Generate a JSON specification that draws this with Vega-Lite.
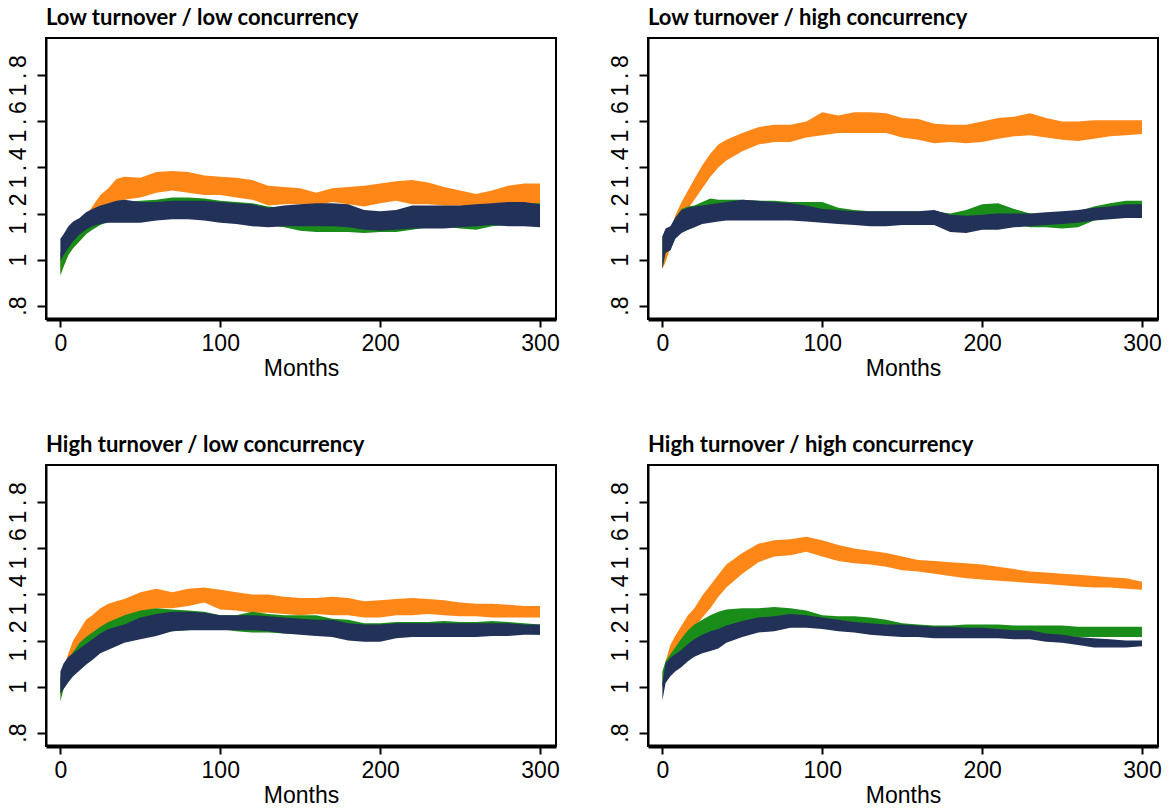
{
  "$schema": "https://vega.github.io/schema/vega-lite/v6.json",
  "background": "white",
  "padding": {"left": 6, "top": 6, "right": 5, "bottom": 5},
  "data": {"values": [
    {"p":"Low turnover / low concurrency","m":0,"ol":0.94,"oh":1.0,"gl":0.93,"gh":1.03,"nl":0.995,"nh":1.09},
    {"p":"Low turnover / low concurrency","m":2,"ol":0.97,"oh":1.03,"gl":0.97,"gh":1.07,"nl":1.02,"nh":1.11},
    {"p":"Low turnover / low concurrency","m":5,"ol":1.02,"oh":1.07,"gl":1.02,"gh":1.12,"nl":1.05,"nh":1.145},
    {"p":"Low turnover / low concurrency","m":8,"ol":1.05,"oh":1.1,"gl":1.05,"gh":1.15,"nl":1.08,"nh":1.165},
    {"p":"Low turnover / low concurrency","m":12,"ol":1.08,"oh":1.15,"gl":1.08,"gh":1.17,"nl":1.11,"nh":1.18},
    {"p":"Low turnover / low concurrency","m":16,"ol":1.11,"oh":1.19,"gl":1.11,"gh":1.19,"nl":1.13,"nh":1.205},
    {"p":"Low turnover / low concurrency","m":20,"ol":1.15,"oh":1.23,"gl":1.13,"gh":1.21,"nl":1.145,"nh":1.22},
    {"p":"Low turnover / low concurrency","m":25,"ol":1.18,"oh":1.28,"gl":1.15,"gh":1.225,"nl":1.155,"nh":1.235},
    {"p":"Low turnover / low concurrency","m":30,"ol":1.21,"oh":1.31,"gl":1.165,"gh":1.24,"nl":1.16,"nh":1.245},
    {"p":"Low turnover / low concurrency","m":35,"ol":1.24,"oh":1.35,"gl":1.17,"gh":1.25,"nl":1.16,"nh":1.255},
    {"p":"Low turnover / low concurrency","m":40,"ol":1.26,"oh":1.36,"gl":1.175,"gh":1.25,"nl":1.16,"nh":1.26},
    {"p":"Low turnover / low concurrency","m":50,"ol":1.27,"oh":1.355,"gl":1.17,"gh":1.255,"nl":1.16,"nh":1.25},
    {"p":"Low turnover / low concurrency","m":60,"ol":1.29,"oh":1.38,"gl":1.18,"gh":1.26,"nl":1.17,"nh":1.25},
    {"p":"Low turnover / low concurrency","m":70,"ol":1.3,"oh":1.385,"gl":1.185,"gh":1.27,"nl":1.175,"nh":1.255},
    {"p":"Low turnover / low concurrency","m":80,"ol":1.29,"oh":1.38,"gl":1.185,"gh":1.27,"nl":1.175,"nh":1.255},
    {"p":"Low turnover / low concurrency","m":90,"ol":1.28,"oh":1.365,"gl":1.18,"gh":1.265,"nl":1.17,"nh":1.255},
    {"p":"Low turnover / low concurrency","m":100,"ol":1.28,"oh":1.36,"gl":1.175,"gh":1.255,"nl":1.16,"nh":1.25},
    {"p":"Low turnover / low concurrency","m":110,"ol":1.27,"oh":1.355,"gl":1.17,"gh":1.25,"nl":1.155,"nh":1.245},
    {"p":"Low turnover / low concurrency","m":120,"ol":1.26,"oh":1.345,"gl":1.16,"gh":1.245,"nl":1.145,"nh":1.24},
    {"p":"Low turnover / low concurrency","m":130,"ol":1.235,"oh":1.32,"gl":1.15,"gh":1.23,"nl":1.14,"nh":1.225},
    {"p":"Low turnover / low concurrency","m":140,"ol":1.24,"oh":1.315,"gl":1.14,"gh":1.225,"nl":1.145,"nh":1.235},
    {"p":"Low turnover / low concurrency","m":150,"ol":1.24,"oh":1.31,"gl":1.125,"gh":1.215,"nl":1.145,"nh":1.24},
    {"p":"Low turnover / low concurrency","m":160,"ol":1.235,"oh":1.29,"gl":1.12,"gh":1.205,"nl":1.145,"nh":1.245},
    {"p":"Low turnover / low concurrency","m":170,"ol":1.25,"oh":1.31,"gl":1.12,"gh":1.2,"nl":1.145,"nh":1.245},
    {"p":"Low turnover / low concurrency","m":180,"ol":1.24,"oh":1.315,"gl":1.12,"gh":1.2,"nl":1.14,"nh":1.24},
    {"p":"Low turnover / low concurrency","m":190,"ol":1.23,"oh":1.32,"gl":1.115,"gh":1.2,"nl":1.13,"nh":1.215},
    {"p":"Low turnover / low concurrency","m":200,"ol":1.245,"oh":1.33,"gl":1.12,"gh":1.2,"nl":1.125,"nh":1.21},
    {"p":"Low turnover / low concurrency","m":210,"ol":1.255,"oh":1.34,"gl":1.12,"gh":1.205,"nl":1.13,"nh":1.215},
    {"p":"Low turnover / low concurrency","m":220,"ol":1.24,"oh":1.345,"gl":1.13,"gh":1.21,"nl":1.135,"nh":1.235},
    {"p":"Low turnover / low concurrency","m":230,"ol":1.24,"oh":1.335,"gl":1.14,"gh":1.215,"nl":1.135,"nh":1.235},
    {"p":"Low turnover / low concurrency","m":240,"ol":1.235,"oh":1.315,"gl":1.145,"gh":1.22,"nl":1.135,"nh":1.235},
    {"p":"Low turnover / low concurrency","m":250,"ol":1.235,"oh":1.3,"gl":1.135,"gh":1.225,"nl":1.14,"nh":1.235},
    {"p":"Low turnover / low concurrency","m":260,"ol":1.225,"oh":1.285,"gl":1.13,"gh":1.23,"nl":1.145,"nh":1.24},
    {"p":"Low turnover / low concurrency","m":270,"ol":1.21,"oh":1.3,"gl":1.145,"gh":1.24,"nl":1.15,"nh":1.245},
    {"p":"Low turnover / low concurrency","m":280,"ol":1.225,"oh":1.32,"gl":1.15,"gh":1.245,"nl":1.145,"nh":1.25},
    {"p":"Low turnover / low concurrency","m":290,"ol":1.235,"oh":1.33,"gl":1.155,"gh":1.245,"nl":1.145,"nh":1.25},
    {"p":"Low turnover / low concurrency","m":300,"ol":1.24,"oh":1.33,"gl":1.155,"gh":1.245,"nl":1.14,"nh":1.24},

    {"p":"Low turnover / high concurrency","m":0,"ol":0.96,"oh":1.0,"gl":0.96,"gh":1.1,"nl":0.96,"nh":1.1},
    {"p":"Low turnover / high concurrency","m":2,"ol":0.99,"oh":1.05,"gl":1.03,"gh":1.13,"nl":1.03,"nh":1.135},
    {"p":"Low turnover / high concurrency","m":5,"ol":1.05,"oh":1.12,"gl":1.04,"gh":1.14,"nl":1.04,"nh":1.145},
    {"p":"Low turnover / high concurrency","m":8,"ol":1.1,"oh":1.19,"gl":1.09,"gh":1.18,"nl":1.09,"nh":1.18},
    {"p":"Low turnover / high concurrency","m":12,"ol":1.18,"oh":1.25,"gl":1.12,"gh":1.22,"nl":1.115,"nh":1.215},
    {"p":"Low turnover / high concurrency","m":16,"ol":1.22,"oh":1.3,"gl":1.13,"gh":1.23,"nl":1.13,"nh":1.225},
    {"p":"Low turnover / high concurrency","m":20,"ol":1.26,"oh":1.35,"gl":1.14,"gh":1.235,"nl":1.14,"nh":1.23},
    {"p":"Low turnover / high concurrency","m":25,"ol":1.31,"oh":1.41,"gl":1.16,"gh":1.25,"nl":1.155,"nh":1.235},
    {"p":"Low turnover / high concurrency","m":30,"ol":1.36,"oh":1.46,"gl":1.17,"gh":1.265,"nl":1.16,"nh":1.24},
    {"p":"Low turnover / high concurrency","m":35,"ol":1.4,"oh":1.5,"gl":1.175,"gh":1.26,"nl":1.165,"nh":1.245},
    {"p":"Low turnover / high concurrency","m":40,"ol":1.43,"oh":1.52,"gl":1.175,"gh":1.26,"nl":1.17,"nh":1.25},
    {"p":"Low turnover / high concurrency","m":50,"ol":1.47,"oh":1.55,"gl":1.18,"gh":1.26,"nl":1.17,"nh":1.26},
    {"p":"Low turnover / high concurrency","m":60,"ol":1.5,"oh":1.575,"gl":1.18,"gh":1.255,"nl":1.17,"nh":1.255},
    {"p":"Low turnover / high concurrency","m":70,"ol":1.51,"oh":1.585,"gl":1.18,"gh":1.255,"nl":1.17,"nh":1.25},
    {"p":"Low turnover / high concurrency","m":80,"ol":1.51,"oh":1.585,"gl":1.18,"gh":1.25,"nl":1.17,"nh":1.245},
    {"p":"Low turnover / high concurrency","m":90,"ol":1.53,"oh":1.6,"gl":1.175,"gh":1.25,"nl":1.165,"nh":1.235},
    {"p":"Low turnover / high concurrency","m":100,"ol":1.54,"oh":1.64,"gl":1.17,"gh":1.25,"nl":1.16,"nh":1.22},
    {"p":"Low turnover / high concurrency","m":110,"ol":1.55,"oh":1.625,"gl":1.165,"gh":1.225,"nl":1.155,"nh":1.215},
    {"p":"Low turnover / high concurrency","m":120,"ol":1.55,"oh":1.64,"gl":1.155,"gh":1.215,"nl":1.15,"nh":1.21},
    {"p":"Low turnover / high concurrency","m":130,"ol":1.55,"oh":1.64,"gl":1.15,"gh":1.21,"nl":1.145,"nh":1.21},
    {"p":"Low turnover / high concurrency","m":140,"ol":1.55,"oh":1.635,"gl":1.15,"gh":1.21,"nl":1.145,"nh":1.21},
    {"p":"Low turnover / high concurrency","m":150,"ol":1.53,"oh":1.615,"gl":1.15,"gh":1.21,"nl":1.15,"nh":1.21},
    {"p":"Low turnover / high concurrency","m":160,"ol":1.52,"oh":1.61,"gl":1.15,"gh":1.21,"nl":1.15,"nh":1.21},
    {"p":"Low turnover / high concurrency","m":170,"ol":1.505,"oh":1.59,"gl":1.15,"gh":1.21,"nl":1.15,"nh":1.215},
    {"p":"Low turnover / high concurrency","m":180,"ol":1.51,"oh":1.585,"gl":1.15,"gh":1.2,"nl":1.12,"nh":1.195},
    {"p":"Low turnover / high concurrency","m":190,"ol":1.505,"oh":1.585,"gl":1.15,"gh":1.215,"nl":1.115,"nh":1.19},
    {"p":"Low turnover / high concurrency","m":200,"ol":1.51,"oh":1.6,"gl":1.16,"gh":1.24,"nl":1.13,"nh":1.195},
    {"p":"Low turnover / high concurrency","m":210,"ol":1.525,"oh":1.615,"gl":1.16,"gh":1.245,"nl":1.13,"nh":1.2},
    {"p":"Low turnover / high concurrency","m":220,"ol":1.535,"oh":1.62,"gl":1.155,"gh":1.22,"nl":1.14,"nh":1.2},
    {"p":"Low turnover / high concurrency","m":230,"ol":1.54,"oh":1.635,"gl":1.14,"gh":1.2,"nl":1.145,"nh":1.2},
    {"p":"Low turnover / high concurrency","m":240,"ol":1.53,"oh":1.615,"gl":1.14,"gh":1.195,"nl":1.15,"nh":1.205},
    {"p":"Low turnover / high concurrency","m":250,"ol":1.52,"oh":1.6,"gl":1.135,"gh":1.2,"nl":1.155,"nh":1.21},
    {"p":"Low turnover / high concurrency","m":260,"ol":1.515,"oh":1.6,"gl":1.14,"gh":1.21,"nl":1.16,"nh":1.215},
    {"p":"Low turnover / high concurrency","m":270,"ol":1.525,"oh":1.605,"gl":1.17,"gh":1.23,"nl":1.17,"nh":1.225},
    {"p":"Low turnover / high concurrency","m":280,"ol":1.535,"oh":1.605,"gl":1.18,"gh":1.245,"nl":1.175,"nh":1.23},
    {"p":"Low turnover / high concurrency","m":290,"ol":1.54,"oh":1.605,"gl":1.18,"gh":1.255,"nl":1.18,"nh":1.24},
    {"p":"Low turnover / high concurrency","m":300,"ol":1.545,"oh":1.605,"gl":1.18,"gh":1.255,"nl":1.18,"nh":1.24},

    {"p":"High turnover / low concurrency","m":0,"ol":0.96,"oh":1.03,"gl":0.935,"gh":1.04,"nl":0.97,"nh":1.065},
    {"p":"High turnover / low concurrency","m":2,"ol":1.0,"oh":1.08,"gl":0.99,"gh":1.08,"nl":0.99,"nh":1.1},
    {"p":"High turnover / low concurrency","m":5,"ol":1.07,"oh":1.145,"gl":1.02,"gh":1.12,"nl":1.02,"nh":1.13},
    {"p":"High turnover / low concurrency","m":8,"ol":1.12,"oh":1.2,"gl":1.05,"gh":1.15,"nl":1.045,"nh":1.145},
    {"p":"High turnover / low concurrency","m":12,"ol":1.17,"oh":1.245,"gl":1.08,"gh":1.19,"nl":1.07,"nh":1.165},
    {"p":"High turnover / low concurrency","m":16,"ol":1.195,"oh":1.29,"gl":1.1,"gh":1.215,"nl":1.095,"nh":1.185},
    {"p":"High turnover / low concurrency","m":20,"ol":1.215,"oh":1.31,"gl":1.12,"gh":1.235,"nl":1.115,"nh":1.205},
    {"p":"High turnover / low concurrency","m":25,"ol":1.245,"oh":1.34,"gl":1.15,"gh":1.26,"nl":1.145,"nh":1.23},
    {"p":"High turnover / low concurrency","m":30,"ol":1.265,"oh":1.36,"gl":1.165,"gh":1.28,"nl":1.16,"nh":1.25},
    {"p":"High turnover / low concurrency","m":35,"ol":1.28,"oh":1.37,"gl":1.18,"gh":1.295,"nl":1.175,"nh":1.26},
    {"p":"High turnover / low concurrency","m":40,"ol":1.295,"oh":1.38,"gl":1.195,"gh":1.31,"nl":1.19,"nh":1.27},
    {"p":"High turnover / low concurrency","m":50,"ol":1.32,"oh":1.41,"gl":1.21,"gh":1.33,"nl":1.205,"nh":1.3},
    {"p":"High turnover / low concurrency","m":60,"ol":1.34,"oh":1.425,"gl":1.23,"gh":1.34,"nl":1.22,"nh":1.315},
    {"p":"High turnover / low concurrency","m":70,"ol":1.34,"oh":1.41,"gl":1.24,"gh":1.335,"nl":1.24,"nh":1.325},
    {"p":"High turnover / low concurrency","m":80,"ol":1.35,"oh":1.425,"gl":1.245,"gh":1.33,"nl":1.245,"nh":1.325},
    {"p":"High turnover / low concurrency","m":90,"ol":1.365,"oh":1.43,"gl":1.25,"gh":1.325,"nl":1.245,"nh":1.32},
    {"p":"High turnover / low concurrency","m":100,"ol":1.335,"oh":1.42,"gl":1.25,"gh":1.31,"nl":1.245,"nh":1.31},
    {"p":"High turnover / low concurrency","m":110,"ol":1.33,"oh":1.41,"gl":1.24,"gh":1.31,"nl":1.245,"nh":1.31},
    {"p":"High turnover / low concurrency","m":120,"ol":1.32,"oh":1.4,"gl":1.235,"gh":1.325,"nl":1.245,"nh":1.31},
    {"p":"High turnover / low concurrency","m":130,"ol":1.32,"oh":1.4,"gl":1.235,"gh":1.315,"nl":1.24,"nh":1.305},
    {"p":"High turnover / low concurrency","m":140,"ol":1.315,"oh":1.39,"gl":1.23,"gh":1.31,"nl":1.23,"nh":1.3},
    {"p":"High turnover / low concurrency","m":150,"ol":1.31,"oh":1.385,"gl":1.235,"gh":1.31,"nl":1.225,"nh":1.295},
    {"p":"High turnover / low concurrency","m":160,"ol":1.315,"oh":1.385,"gl":1.235,"gh":1.31,"nl":1.22,"nh":1.29},
    {"p":"High turnover / low concurrency","m":170,"ol":1.31,"oh":1.39,"gl":1.235,"gh":1.295,"nl":1.215,"nh":1.29},
    {"p":"High turnover / low concurrency","m":180,"ol":1.31,"oh":1.385,"gl":1.24,"gh":1.29,"nl":1.2,"nh":1.275},
    {"p":"High turnover / low concurrency","m":190,"ol":1.3,"oh":1.37,"gl":1.23,"gh":1.275,"nl":1.195,"nh":1.27},
    {"p":"High turnover / low concurrency","m":200,"ol":1.3,"oh":1.375,"gl":1.235,"gh":1.275,"nl":1.195,"nh":1.27},
    {"p":"High turnover / low concurrency","m":210,"ol":1.31,"oh":1.38,"gl":1.235,"gh":1.28,"nl":1.21,"nh":1.275},
    {"p":"High turnover / low concurrency","m":220,"ol":1.31,"oh":1.385,"gl":1.235,"gh":1.28,"nl":1.215,"nh":1.275},
    {"p":"High turnover / low concurrency","m":230,"ol":1.315,"oh":1.38,"gl":1.235,"gh":1.28,"nl":1.215,"nh":1.275},
    {"p":"High turnover / low concurrency","m":240,"ol":1.31,"oh":1.375,"gl":1.235,"gh":1.285,"nl":1.215,"nh":1.275},
    {"p":"High turnover / low concurrency","m":250,"ol":1.305,"oh":1.365,"gl":1.235,"gh":1.28,"nl":1.215,"nh":1.275},
    {"p":"High turnover / low concurrency","m":260,"ol":1.305,"oh":1.36,"gl":1.235,"gh":1.28,"nl":1.215,"nh":1.275},
    {"p":"High turnover / low concurrency","m":270,"ol":1.3,"oh":1.36,"gl":1.235,"gh":1.285,"nl":1.22,"nh":1.275},
    {"p":"High turnover / low concurrency","m":280,"ol":1.3,"oh":1.355,"gl":1.235,"gh":1.28,"nl":1.22,"nh":1.275},
    {"p":"High turnover / low concurrency","m":290,"ol":1.3,"oh":1.35,"gl":1.23,"gh":1.275,"nl":1.225,"nh":1.27},
    {"p":"High turnover / low concurrency","m":300,"ol":1.3,"oh":1.35,"gl":1.225,"gh":1.27,"nl":1.225,"nh":1.27},

    {"p":"High turnover / high concurrency","m":0,"ol":0.99,"oh":1.04,"gl":1.0,"gh":1.065,"nl":0.94,"nh":1.015},
    {"p":"High turnover / high concurrency","m":2,"ol":1.05,"oh":1.11,"gl":1.02,"gh":1.11,"nl":1.015,"nh":1.1},
    {"p":"High turnover / high concurrency","m":5,"ol":1.1,"oh":1.18,"gl":1.05,"gh":1.14,"nl":1.045,"nh":1.125},
    {"p":"High turnover / high concurrency","m":8,"ol":1.14,"oh":1.22,"gl":1.08,"gh":1.17,"nl":1.065,"nh":1.14},
    {"p":"High turnover / high concurrency","m":12,"ol":1.18,"oh":1.265,"gl":1.11,"gh":1.21,"nl":1.085,"nh":1.16},
    {"p":"High turnover / high concurrency","m":16,"ol":1.22,"oh":1.31,"gl":1.135,"gh":1.245,"nl":1.11,"nh":1.185},
    {"p":"High turnover / high concurrency","m":20,"ol":1.25,"oh":1.34,"gl":1.15,"gh":1.27,"nl":1.13,"nh":1.205},
    {"p":"High turnover / high concurrency","m":25,"ol":1.3,"oh":1.395,"gl":1.17,"gh":1.29,"nl":1.145,"nh":1.225},
    {"p":"High turnover / high concurrency","m":30,"ol":1.34,"oh":1.44,"gl":1.19,"gh":1.31,"nl":1.155,"nh":1.24},
    {"p":"High turnover / high concurrency","m":35,"ol":1.39,"oh":1.485,"gl":1.2,"gh":1.325,"nl":1.165,"nh":1.25},
    {"p":"High turnover / high concurrency","m":40,"ol":1.43,"oh":1.53,"gl":1.21,"gh":1.335,"nl":1.19,"nh":1.265},
    {"p":"High turnover / high concurrency","m":50,"ol":1.49,"oh":1.58,"gl":1.24,"gh":1.34,"nl":1.215,"nh":1.285},
    {"p":"High turnover / high concurrency","m":60,"ol":1.54,"oh":1.62,"gl":1.25,"gh":1.34,"nl":1.235,"nh":1.3},
    {"p":"High turnover / high concurrency","m":70,"ol":1.565,"oh":1.635,"gl":1.265,"gh":1.345,"nl":1.24,"nh":1.305},
    {"p":"High turnover / high concurrency","m":80,"ol":1.57,"oh":1.64,"gl":1.27,"gh":1.34,"nl":1.255,"nh":1.315},
    {"p":"High turnover / high concurrency","m":90,"ol":1.585,"oh":1.65,"gl":1.27,"gh":1.33,"nl":1.255,"nh":1.31},
    {"p":"High turnover / high concurrency","m":100,"ol":1.565,"oh":1.635,"gl":1.265,"gh":1.31,"nl":1.25,"nh":1.3},
    {"p":"High turnover / high concurrency","m":110,"ol":1.545,"oh":1.615,"gl":1.26,"gh":1.305,"nl":1.24,"nh":1.29},
    {"p":"High turnover / high concurrency","m":120,"ol":1.535,"oh":1.6,"gl":1.255,"gh":1.305,"nl":1.235,"nh":1.28},
    {"p":"High turnover / high concurrency","m":130,"ol":1.53,"oh":1.59,"gl":1.25,"gh":1.3,"nl":1.225,"nh":1.275},
    {"p":"High turnover / high concurrency","m":140,"ol":1.52,"oh":1.58,"gl":1.245,"gh":1.29,"nl":1.22,"nh":1.27},
    {"p":"High turnover / high concurrency","m":150,"ol":1.505,"oh":1.565,"gl":1.235,"gh":1.275,"nl":1.215,"nh":1.27},
    {"p":"High turnover / high concurrency","m":160,"ol":1.5,"oh":1.55,"gl":1.23,"gh":1.27,"nl":1.215,"nh":1.265},
    {"p":"High turnover / high concurrency","m":170,"ol":1.49,"oh":1.545,"gl":1.225,"gh":1.265,"nl":1.21,"nh":1.26},
    {"p":"High turnover / high concurrency","m":180,"ol":1.48,"oh":1.54,"gl":1.225,"gh":1.265,"nl":1.21,"nh":1.26},
    {"p":"High turnover / high concurrency","m":190,"ol":1.47,"oh":1.535,"gl":1.225,"gh":1.27,"nl":1.21,"nh":1.255},
    {"p":"High turnover / high concurrency","m":200,"ol":1.465,"oh":1.53,"gl":1.225,"gh":1.27,"nl":1.21,"nh":1.255},
    {"p":"High turnover / high concurrency","m":210,"ol":1.46,"oh":1.52,"gl":1.22,"gh":1.27,"nl":1.21,"nh":1.25},
    {"p":"High turnover / high concurrency","m":220,"ol":1.455,"oh":1.51,"gl":1.22,"gh":1.265,"nl":1.205,"nh":1.245},
    {"p":"High turnover / high concurrency","m":230,"ol":1.45,"oh":1.5,"gl":1.22,"gh":1.265,"nl":1.205,"nh":1.245},
    {"p":"High turnover / high concurrency","m":240,"ol":1.445,"oh":1.495,"gl":1.22,"gh":1.265,"nl":1.195,"nh":1.23},
    {"p":"High turnover / high concurrency","m":250,"ol":1.44,"oh":1.49,"gl":1.22,"gh":1.265,"nl":1.19,"nh":1.225},
    {"p":"High turnover / high concurrency","m":260,"ol":1.435,"oh":1.485,"gl":1.215,"gh":1.26,"nl":1.18,"nh":1.215},
    {"p":"High turnover / high concurrency","m":270,"ol":1.43,"oh":1.48,"gl":1.215,"gh":1.26,"nl":1.17,"nh":1.21},
    {"p":"High turnover / high concurrency","m":280,"ol":1.43,"oh":1.475,"gl":1.215,"gh":1.26,"nl":1.17,"nh":1.205},
    {"p":"High turnover / high concurrency","m":290,"ol":1.425,"oh":1.47,"gl":1.215,"gh":1.26,"nl":1.17,"nh":1.2},
    {"p":"High turnover / high concurrency","m":300,"ol":1.42,"oh":1.455,"gl":1.215,"gh":1.26,"nl":1.175,"nh":1.2}
  ]},
  "facet": {
    "field": "p",
    "type": "nominal",
    "title": null,
    "sort": ["Low turnover / low concurrency", "Low turnover / high concurrency", "High turnover / low concurrency", "High turnover / high concurrency"]
  },
  "columns": 2,
  "spacing": {"row": 52, "column": 47},
  "resolve": {"axis": {"x": "independent", "y": "independent"}},
  "spec": {
    "width": 510,
    "height": 281,
    "encoding": {
      "x": {
        "field": "m",
        "type": "quantitative",
        "scale": {"domain": [-9, 310], "nice": false, "zero": false},
        "axis": {"values": [0, 100, 200, 300], "title": "Months", "format": "d"}
      }
    },
    "layer": [
      {
        "mark": {"type": "area", "color": "#ff8717", "opacity": 1},
        "encoding": {
          "y": {"field": "ol", "type": "quantitative", "scale": {"domain": [0.742, 1.962], "nice": false, "zero": false},
                "axis": {"values": [0.8, 1, 1.2, 1.4, 1.6, 1.8], "title": null,
                         "labelExpr": "datum.value < 0.9 ? '.8' : (abs(datum.value - 1) < 0.01 ? '1' : replace(format(datum.value, '.1f'), '.', '\u2009.\u2009'))"}},
          "y2": {"field": "oh"}
        }
      },
      {
        "mark": {"type": "area", "color": "#1a8c1a", "opacity": 1},
        "encoding": {
          "y": {"field": "gl", "type": "quantitative"},
          "y2": {"field": "gh"}
        }
      },
      {
        "mark": {"type": "area", "color": "#223157", "opacity": 1},
        "encoding": {
          "y": {"field": "nl", "type": "quantitative"},
          "y2": {"field": "nh"}
        }
      }
    ]
  },
  "config": {
    "view": {"stroke": "#000", "strokeWidth": 2},
    "axis": {
      "grid": false,
      "domainColor": "#000",
      "tickColor": "#000",
      "labelColor": "#000",
      "titleColor": "#000",
      "labelFont": "Liberation Sans",
      "titleFont": "Liberation Sans",
      "labelFontSize": 23,
      "titleFontSize": 23,
      "titleFontWeight": "normal",
      "tickWidth": 2,
      "labelFlush": false,
      "labelOverlap": false,
      "labelBound": false
    },
    "axisX": {"domainWidth": 4, "tickSize": 8, "labelPadding": 5, "titlePadding": 2},
    "axisY": {"domainWidth": 2, "tickSize": 9, "labelAngle": 270, "labelAlign": "center", "labelBaseline": "bottom", "labelPadding": 7},
    "header": {
      "labelFont": "Lato",
      "labelFontWeight": "bold",
      "labelFontSize": 22,
      "labelColor": "#000",
      "labelAnchor": "start",
      "labelPadding": 8
    }
  }
}
